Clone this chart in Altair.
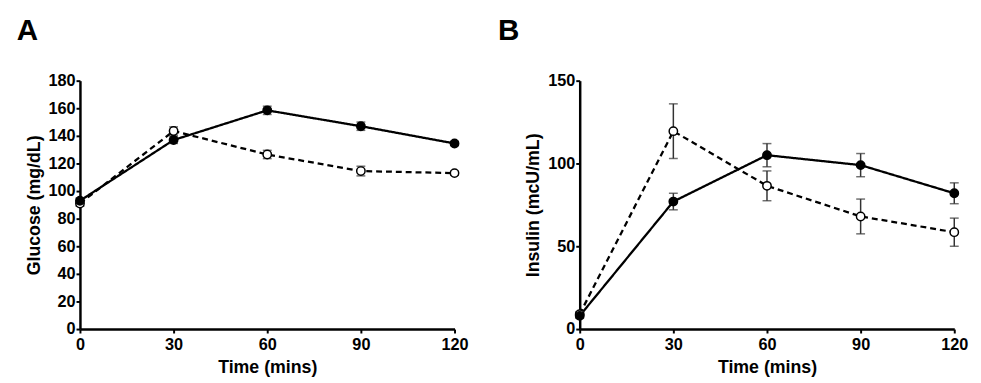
import altair as alt
import pandas as pd

times = [0, 30, 60, 90, 120]
groups = ["filled", "open"]

glucose_filled = [93, 137, 158.5, 147, 134.5]
glucose_filled_err = [2, 2.5, 3, 3, 1.5]
glucose_open = [91, 143.5, 126.5, 114.5, 113]
glucose_open_err = [2, 3, 3, 3.5, 1.5]
glucose_ticks = [0, 20, 40, 60, 80, 100, 120, 140, 160, 180]

insulin_filled = [8, 77, 105, 99, 82]
insulin_filled_err = [1.5, 5, 7, 7, 6.3]
insulin_open = [9, 119.5, 86.5, 68, 58.5]
insulin_open_err = [1.5, 16.5, 9, 10.5, 8.5]
insulin_ticks = [0, 50, 100, 150]

FONT = "Liberation Sans"


def make_df(filled, filled_err, opened, opened_err):
    rows = []
    for t, v, e in zip(times, filled, filled_err):
        rows.append({"time": t, "value": v, "lo": v - e, "hi": v + e, "group": "filled"})
    for t, v, e in zip(times, opened, opened_err):
        rows.append({"time": t, "value": v, "lo": v - e, "hi": v + e, "group": "open"})
    return pd.DataFrame(rows)


def panel(df, ymax, yticks, ytitle, label, label_dx):
    xaxis = alt.Axis(values=times, title="Time (mins)", labelOverlap=False)
    yaxis = alt.Axis(values=yticks, title=ytitle, labelOverlap=False)
    xs = alt.Scale(domain=[0, 120], nice=False)
    ys = alt.Scale(domain=[0, ymax], nice=False)

    def X():
        return alt.X("time:Q", scale=xs, axis=xaxis)

    def Y(f):
        return alt.Y(f, scale=ys, axis=yaxis)

    base = alt.Chart(df)
    bars = base.mark_rule(color="#333333", strokeWidth=1.5).encode(
        x=X(), y=Y("lo:Q"), y2="hi:Q")
    cap_lo = base.mark_tick(color="#333333", thickness=1.5, size=9, orient="horizontal").encode(
        x=X(), y=Y("lo:Q"))
    cap_hi = base.mark_tick(color="#333333", thickness=1.5, size=9, orient="horizontal").encode(
        x=X(), y=Y("hi:Q"))
    lines = base.mark_line(color="black", strokeWidth=2.3).encode(
        x=X(), y=Y("value:Q"),
        strokeDash=alt.StrokeDash("group:N", scale=alt.Scale(domain=groups, range=[[1, 0], [6, 4]]), legend=None),
        detail="group:N")
    pts_open = base.transform_filter(alt.datum.group == "open").mark_point(
        shape="circle", size=72, filled=False, strokeWidth=1.5, stroke="black", fill="white", opacity=1
    ).encode(x=X(), y=Y("value:Q"))
    pts_filled = base.transform_filter(alt.datum.group == "filled").mark_point(
        shape="circle", size=72, filled=False, strokeWidth=1.5, stroke="black", fill="black", opacity=1
    ).encode(x=X(), y=Y("value:Q"))
    return alt.layer(lines, bars, cap_lo, cap_hi, pts_open, pts_filled).properties(
        width=380, height=252,
        title=alt.TitleParams(label, anchor="start", frame="group", dx=label_dx, offset=27,
                              fontSize=30, font=FONT, fontWeight="bold", color="black"))


dfA = make_df(glucose_filled, glucose_filled_err, glucose_open, glucose_open_err)
dfB = make_df(insulin_filled, insulin_filled_err, insulin_open, insulin_open_err)

chartA = panel(dfA, 180, glucose_ticks, "Glucose (mg/dL)", "A", -64)
chartB = panel(dfB, 150, insulin_ticks, "Insulin (mcU/mL)", "B", -83)

chart = alt.hconcat(chartA, chartB, spacing=30).properties(
    padding={"left": 9, "top": 6, "right": 5, "bottom": 3}
).configure_view(stroke=None).configure_axis(
    grid=False, domainColor="black", domainWidth=2.5, tickColor="black", tickWidth=2,
    tickSize=4, labelFont=FONT, labelFontWeight="bold", labelFontSize=16.5, labelColor="black",
    labelPadding=1, labelOverlap=False, titleFont=FONT, titleFontWeight="bold", titleFontSize=18,
    titleColor="black", titlePadding=5
).configure_axisX(labelFlush=False, labelPadding=4, titlePadding=6)

chart.save("out.html", embed_options={"renderer": "svg", "actions": False})
